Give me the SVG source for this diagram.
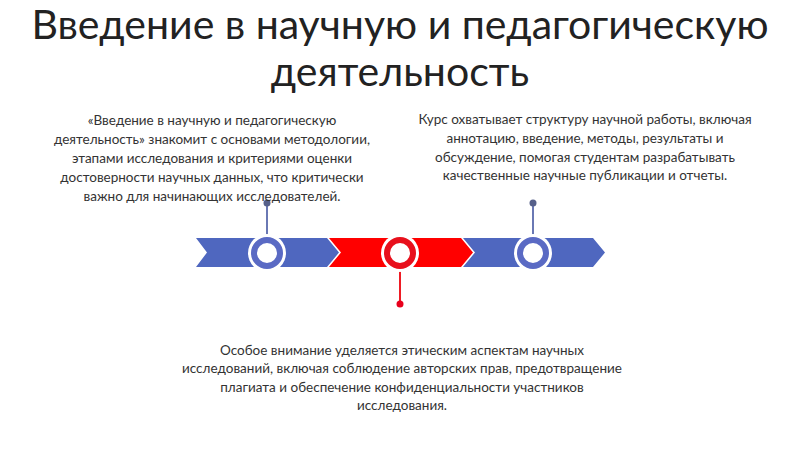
<svg xmlns="http://www.w3.org/2000/svg" width="800" height="449" viewBox="0 0 800 449">
<style>
.title{font-family:Lato,"Open Sans","Noto Sans",sans-serif;font-size:41px;fill:#222;text-anchor:middle}
.body{font-family:Lato,"Noto Sans",sans-serif;font-size:13.5px;fill:#333;text-anchor:middle}
.blue{fill:#4f67bf}
.red{fill:#ff0000}
.ringb{fill:#fff;stroke:#5a6ac4;stroke-width:6}
.ringr{fill:#fff;stroke:#e8101c;stroke-width:6}
.halo{fill:#fff}
.stemb{stroke:#6a78b4;stroke-width:2}
.stemr{stroke:#ee1c24;stroke-width:2}
</style>
<rect width="800" height="449" fill="#fff"/>
<g id="title">
<text class="title" x="400" y="39">Введение в научную и педагогическую</text>
<text class="title" x="400" y="86">деятельность</text>
</g>
<g id="arrows">
<polygon class="blue" points="196,238 327,238 339,252.5 327,267 196,267 207,252.5"/>
<polygon class="red" points="329,238 461,238 473,252.5 461,267 329,267 341,252.5"/>
<polygon class="blue" points="463,238 593,238 605,252.5 593,267 463,267 475,252.5"/>
</g>
<g id="connectors">
<line class="stemb" x1="267" y1="203" x2="267" y2="236"/>
<circle cx="267" cy="203" r="3.5" fill="#56608a"/>
<line class="stemb" x1="533" y1="203" x2="533" y2="236"/>
<circle cx="533" cy="203" r="3.5" fill="#56608a"/>
<line class="stemr" x1="400" y1="270" x2="400" y2="304"/>
<circle cx="400" cy="304" r="3.5" fill="#e8001c"/>
</g>
<g id="node1">
<circle class="halo" cx="267" cy="253" r="19"/>
<circle class="ringb" cx="267" cy="253" r="13"/>
<text class="body" x="212" y="125">«Введение в научную и педагогическую</text>
<text class="body" x="212" y="144">деятельность» знакомит с основами методологии,</text>
<text class="body" x="212" y="163">этапами исследования и критериями оценки</text>
<text class="body" x="212" y="182">достоверности научных данных, что критически</text>
<text class="body" x="212" y="201">важно для начинающих исследователей.</text>
</g>
<g id="node2">
<circle class="halo" cx="400" cy="253" r="19"/>
<circle class="ringr" cx="400" cy="253" r="13"/>
<text class="body" x="402" y="355">Особое внимание уделяется этическим аспектам научных</text>
<text class="body" x="402" y="373">исследований, включая соблюдение авторских прав, предотвращение</text>
<text class="body" x="402" y="392">плагиата и обеспечение конфиденциальности участников</text>
<text class="body" x="402" y="410">исследования.</text>
</g>
<g id="node3">
<circle class="halo" cx="533" cy="253" r="19"/>
<circle class="ringb" cx="533" cy="253" r="13"/>
<text class="body" x="585" y="124">Курс охватывает структуру научной работы, включая</text>
<text class="body" x="585" y="143">аннотацию, введение, методы, результаты и</text>
<text class="body" x="585" y="162">обсуждение, помогая студентам разрабатывать</text>
<text class="body" x="585" y="180">качественные научные публикации и отчеты.</text>
</g>
</svg>
